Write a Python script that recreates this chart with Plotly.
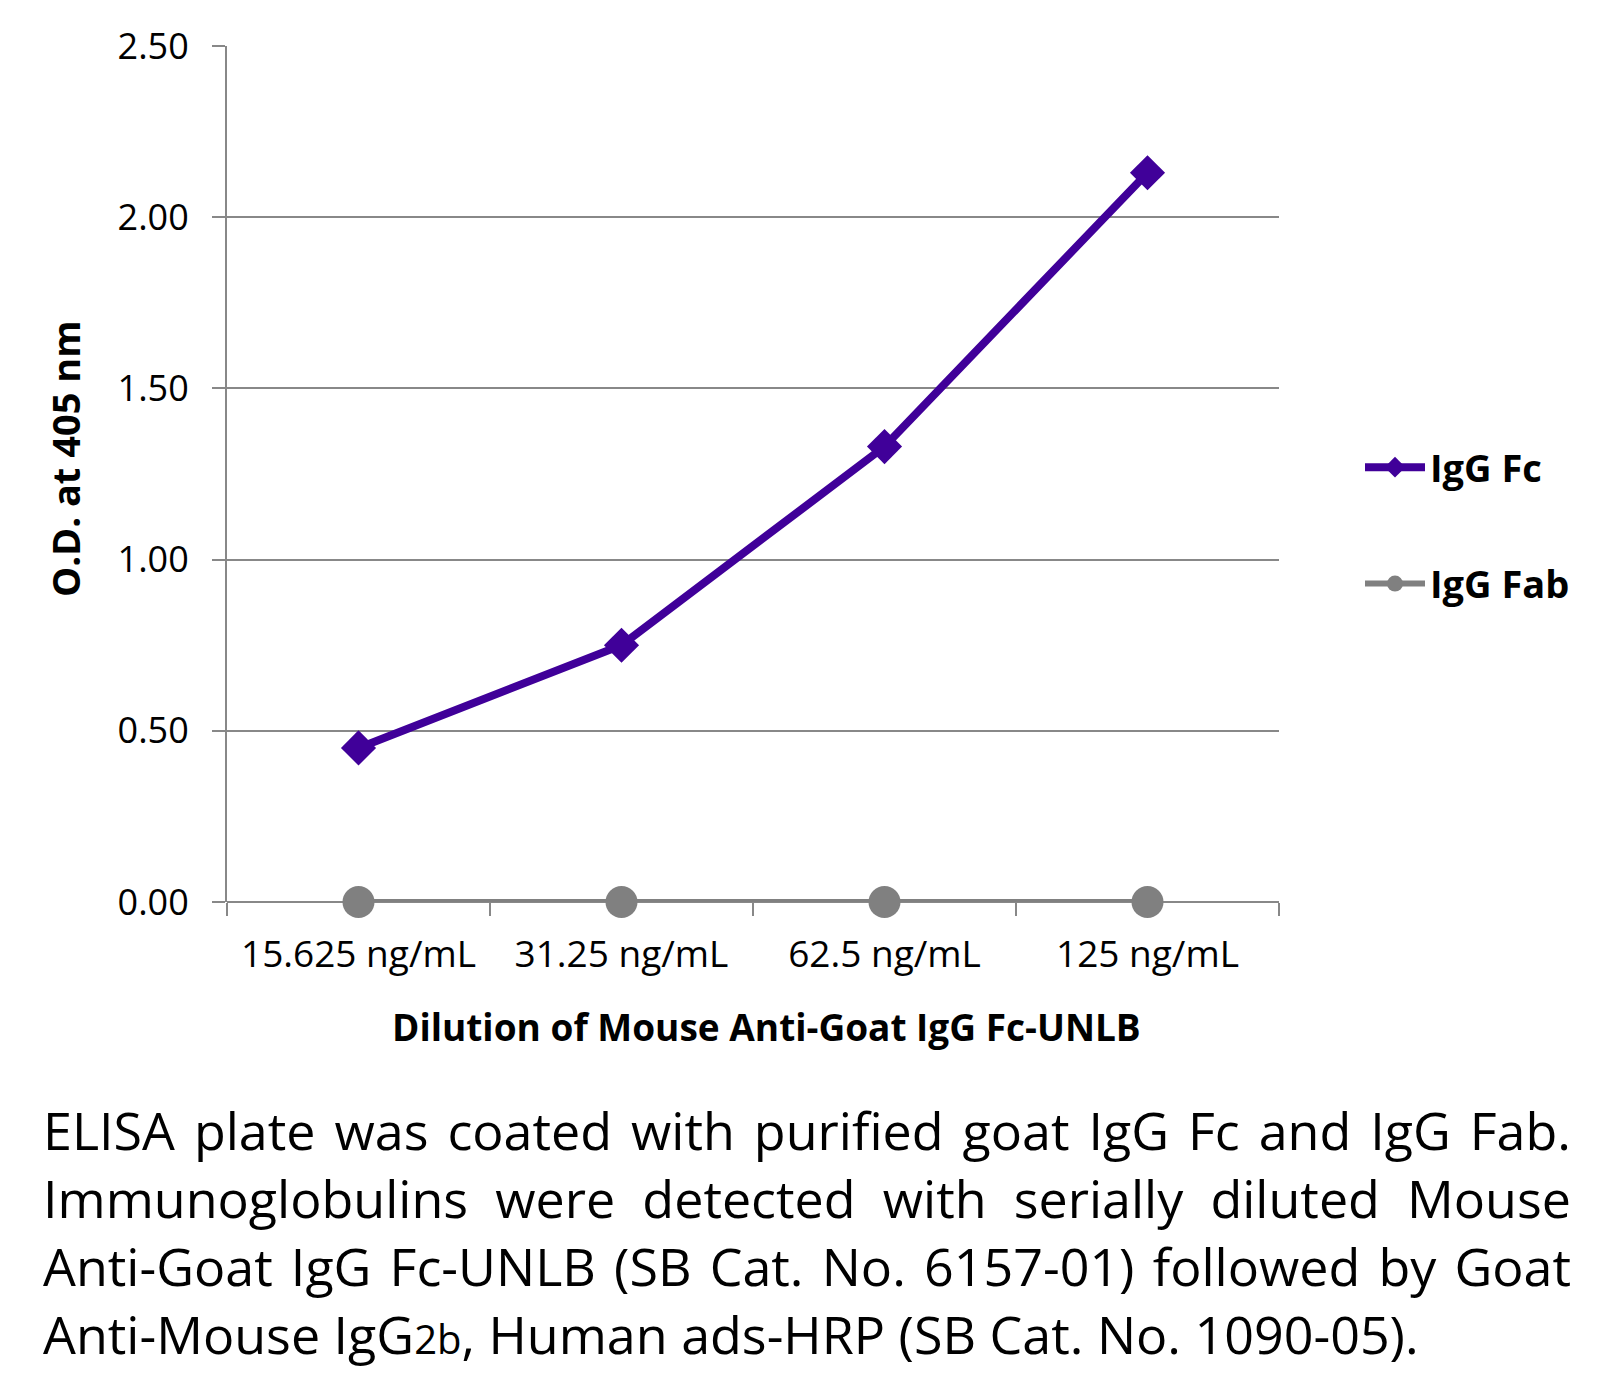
import json
import plotly.graph_objects as go

categories = ["15.625 ng/mL", "31.25 ng/mL", "62.5 ng/mL", "125 ng/mL"]
igg_fc = [0.45, 0.75, 1.33, 2.13]
igg_fab = [0.0, 0.0, 0.0, 0.0]
y_ticks = [0.0, 0.5, 1.0, 1.5, 2.0, 2.5]
y_tick_labels = ["0.00", "0.50", "1.00", "1.50", "2.00", "2.50"]

caption_justified = [
    "ELISA plate was coated with purified goat IgG Fc and IgG Fab.",
    "Immunoglobulins were detected with serially diluted Mouse",
    "Anti-Goat IgG Fc-UNLB (SB Cat. No. 6157-01) followed by Goat",
]
caption_last = "Anti-Mouse IgG<span style='font-size:40px'>2b</span>, Human ads-HRP (SB Cat. No. 1090-05)."

FONT = "Open Sans"
W, H = 1617, 1373
L, R, T, B = 227, 338, 46, 471
PW, PH = W - L - R, H - T - B

def px(x):
    return (x - L) / PW

def py(y):
    return (H - B - y) / PH

fig = go.Figure()
fig.add_trace(go.Scatter(
    x=categories, y=igg_fc, name="IgG Fc", mode="lines+markers",
    line=dict(color="#400099", width=8),
    marker=dict(symbol="diamond", size=27, color="#400099"),
    cliponaxis=False, legendgroup="a"))
fig.add_trace(go.Scatter(
    x=categories, y=igg_fab, name="IgG Fab", mode="lines+markers",
    line=dict(color="#808080", width=6),
    marker=dict(symbol="circle", size=32, color="#808080"),
    cliponaxis=False, legendgroup="b"))

cap_size = 52
LEFT, RIGHT = 41, 1569
line_y = [1129, 1197, 1265, 1334]

annotations = []
for i, text in enumerate(caption_justified + [caption_last]):
    annotations.append(dict(text=text, x=px(LEFT), y=py(line_y[i]), xref="paper", yref="paper",
                            xanchor="left", yanchor="middle", showarrow=False,
                            font=dict(family=FONT, size=cap_size, color="#000")))

annotations.append(dict(text="<b>O.D. at 405 nm</b>", textangle=-90,
                        x=px(65), y=py(459), xref="paper", yref="paper",
                        xanchor="center", yanchor="middle", showarrow=False,
                        font=dict(family=FONT, size=38, color="#000")))
annotations.append(dict(text="<b>Dilution of Mouse Anti-Goat IgG Fc-UNLB</b>",
                        x=px(766), y=py(1026), xref="paper", yref="paper",
                        xanchor="center", yanchor="middle", showarrow=False,
                        font=dict(family=FONT, size=37, color="#000")))

fig.update_layout(
    width=W, height=H,
    margin=dict(l=L, r=R, t=T, b=B, pad=0),
    paper_bgcolor="white", plot_bgcolor="white",
    font=dict(family=FONT, color="#000"),
    showlegend=True,
    legend=dict(x=px(1360), y=py(436), xanchor="left", yanchor="top",
                font=dict(family=FONT, size=38, color="#000", weight="bold"),
                traceorder="grouped", tracegroupgap=64, itemwidth=60,
                bgcolor="rgba(0,0,0,0)"),
    xaxis=dict(type="category", showgrid=False, showline=False, zeroline=False,
               ticks="outside", tickson="boundaries", ticklen=13, tickwidth=2, tickcolor="#888888",
               tickfont=dict(family=FONT, size=37, color="#000"), ticklabelstandoff=27,
               range=[-0.5, 3.5]),
    yaxis=dict(range=[0, 2.5], tickvals=y_ticks, ticktext=y_tick_labels,
               showgrid=True, gridcolor="#888888", gridwidth=2,
               showline=True, linecolor="#888888", linewidth=2,
               zeroline=True, zerolinecolor="#888888", zerolinewidth=2,
               ticks="outside", ticklen=13, tickwidth=2, tickcolor="#888888",
               tickfont=dict(family=FONT, size=36, color="#000"), ticklabelstandoff=16),
    annotations=annotations,
)

# justify the first three caption lines (word spacing) after rendering,
# keeping the left edge where it was
justify_js = """
document.body.style.margin = '0';
var targets = %s;
var target = %d;
var gd = document.getElementById('{plot_id}');
gd.querySelectorAll('text.annotation-text').forEach(function(t) {
  var s = t.textContent;
  if (targets.indexOf(s) >= 0) {
    var nat = t.getComputedTextLength();
    var gaps = (s.match(/ /g) || []).length;
    if (gaps > 0) {
      var extra = target - nat;
      t.style.wordSpacing = (extra / gaps) + 'px';
      var tr = t.getAttribute('transform') || '';
      t.setAttribute('transform', tr + ' translate(' + (extra / 2) + ',0)');
    }
  }
});
""" % (json.dumps(caption_justified), RIGHT - LEFT)

fig.write_html("out.html", config={"displayModeBar": False}, post_script=justify_js)
